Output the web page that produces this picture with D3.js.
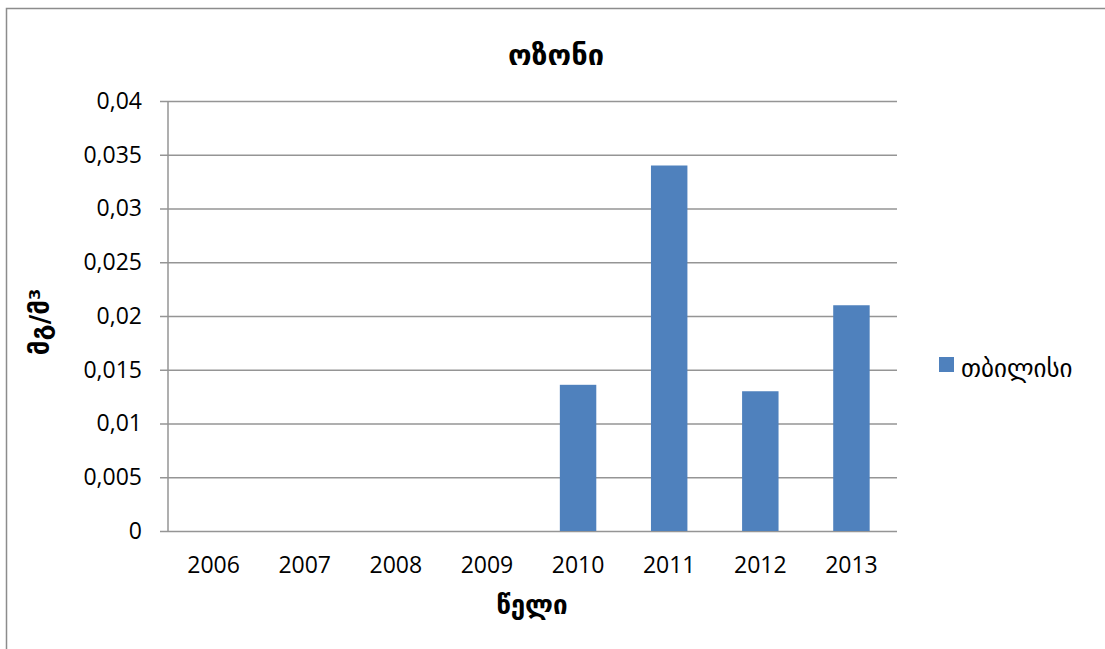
<!DOCTYPE html>
<html>
<head>
<meta charset="utf-8">
<script src="https://cdn.jsdelivr.net/npm/d3@7"></script>
<style>
  html, body { margin: 0; padding: 0; background: #fff; }
  svg { display: block; }
</style>
</head>
<body>
<svg id="chart" width="1105" height="649"></svg>
<script>
// Ozone concentration in Tbilisi by year (mg/m³)
const years = ["2006", "2007", "2008", "2009", "2010", "2011", "2012", "2013"];
const tbilisi = [null, null, null, null, 0.0136, 0.034, 0.013, 0.021];
const yTicks = [0, 0.005, 0.01, 0.015, 0.02, 0.025, 0.03, 0.035, 0.04];
const titleText = "ოზონი";
const yTitle = "მგ/მ³";
const xTitle = "წელი";
const seriesName = "თბილისი";

const svg = d3.select("#chart");
const numFont = "'Open Sans', 'Liberation Sans', sans-serif";
const geoFont = "'DejaVu Sans', sans-serif";
const barColor = "#4f81bd";
const gridColor = "#959595";

// outer chart frame
svg.append("rect")
  .attr("x", 6.5).attr("y", 8.5)
  .attr("width", 1110).attr("height", 660)
  .attr("fill", "#fff").attr("stroke", "#8c8c8c").attr("stroke-width", 1.5);

const plot = { left: 168, right: 897, top: 101, bottom: 531 };

const x = d3.scaleBand().domain(years).range([plot.left, plot.right]).paddingInner(0.6).paddingOuter(0.3);
const y = d3.scaleLinear().domain([0, 0.04]).range([plot.bottom, plot.top]);

const fmt = v => d3.format("")(+v.toFixed(3)).replace(".", ",");

// horizontal gridlines with ticks on the left
const yAxis = d3.axisLeft(y).tickValues(yTicks).tickFormat(fmt)
  .tickSize(-(plot.right - plot.left)).tickPadding(26);
const gy = svg.append("g").attr("transform", `translate(${plot.left},0)`).call(yAxis);
gy.select(".domain").remove();
gy.selectAll(".tick line").attr("stroke", gridColor).attr("stroke-width", 1.5).attr("x1", -8);
gy.selectAll(".tick text").attr("font-family", numFont).attr("font-size", 23).attr("fill", "#000");

// vertical axis line
svg.append("line")
  .attr("x1", plot.left).attr("x2", plot.left)
  .attr("y1", plot.top).attr("y2", plot.bottom)
  .attr("stroke", gridColor).attr("stroke-width", 1.5);

// bars
svg.append("g").selectAll("rect")
  .data(years.map((yr, i) => ({ yr, v: tbilisi[i] })).filter(d => d.v != null))
  .join("rect")
  .attr("x", d => x(d.yr))
  .attr("width", x.bandwidth())
  .attr("y", d => y(d.v))
  .attr("height", d => y(0) - y(d.v))
  .attr("fill", barColor);

// category labels
const xAxis = d3.axisBottom(x).tickSize(0).tickPadding(26);
const gx = svg.append("g").attr("transform", `translate(0,${plot.bottom})`).call(xAxis);
gx.select(".domain").remove();
gx.selectAll(".tick text").attr("font-family", numFont).attr("font-size", 23).attr("fill", "#000");

// titles
svg.append("text").attr("x", 556).attr("y", 65).attr("text-anchor", "middle")
  .attr("font-family", geoFont).attr("font-weight", "bold").attr("font-size", 29).text(titleText);
svg.append("text").attr("transform", "translate(49,322) rotate(-90)").attr("text-anchor", "middle")
  .attr("font-family", geoFont).attr("font-weight", "bold").attr("font-size", 26).text(yTitle);
svg.append("text").attr("x", 532).attr("y", 614).attr("text-anchor", "middle")
  .attr("font-family", geoFont).attr("font-weight", "bold").attr("font-size", 26).text(xTitle);

// legend
const lg = svg.append("g").attr("transform", "translate(939,357)");
lg.append("rect").attr("width", 15).attr("height", 15).attr("fill", barColor);
lg.append("text").attr("x", 22).attr("y", 20).attr("font-family", geoFont)
  .attr("font-size", 25).attr("fill", "#000").text(seriesName);
</script>
</body>
</html>
